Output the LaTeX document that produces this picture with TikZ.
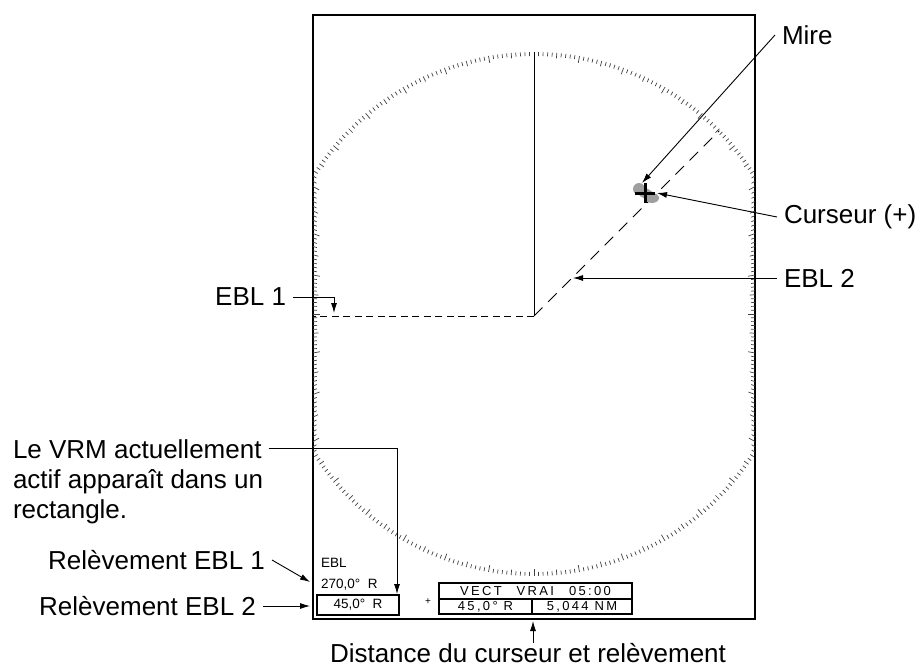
\documentclass[tikz,border=0pt]{standalone}
\usepackage{fontspec}
\setmainfont{Liberation Sans}
\newfontfamily\lcdfont[LetterSpace=18]{Liberation Sans}
\usetikzlibrary{arrows.meta,positioning}

\begin{document}
\begin{tikzpicture}[x=1pt,y=-1pt,
  lbl/.style={inner sep=0pt,outer xsep=7pt,font=\fontsize{26}{30}\selectfont},
  small/.style={inner sep=0pt,font=\fontsize{13.5}{15}\selectfont},
  lcd/.style={draw,line width=1.1pt,inner sep=0pt,font=\lcdfont\fontsize{13}{14}\selectfont},
  lead/.style={-{Latex[length=10pt,width=6pt]},line width=0.9pt},
  ebl/.style={line width=1pt}]
  \useasboundingbox (0,0) rectangle (921,669);

  % radar frame and bearing scale
  \draw[line width=1.2pt] (313,15) rectangle (755,619);
  \foreach \a in {0,...,359}{
    \pgfmathsetmacro\t{min(262,221/max(abs(cos(\a)),0.5))}
    \pgfmathsetmacro\l{ifthenelse(mod(\a,10)==0,7,ifthenelse(mod(\a,5)==0,5.5,4))}
    \draw[black!75,line width=0.7pt] ({534+\t*cos(\a)},{314+\t*sin(\a)}) -- ({534+(\t-\l)*cos(\a)},{314+(\t-\l)*sin(\a)});
  }

  % heading line and EBLs
  \coordinate (own) at (534,316);
  \draw[ebl] (534,52) -- (own);
  \draw[ebl,dash pattern=on 7pt off 4.5pt] (own) -- (313,316);
  \draw[ebl,dash pattern=on 12pt off 8pt] (own) -- ++(-45:262);

  % cursor on target
  \fill[gray!75] (639,189) circle (6);
  \fill[gray!75] (652,198) ellipse (7 and 5);
  \fill[gray!75] (635,185) -- (648,189) -- (657,195) -- (650,202) -- (640,196) -- cycle;
  \coordinate (cursor) at (645,193);
  \draw[line width=3pt] (635,193) -- (655,193) (645,183) -- (645,203);

  % labels right
  \node[lbl,anchor=west] (mire) at (775,35) {Mire};
  \node[lbl,anchor=west] (curs) at (777,217) {Curseur (+)};
  \node[lbl,anchor=west] (ebltwo) at (777,278) {EBL 2};
  \node[lbl,anchor=east] (eblone) at (293,297) {EBL 1};
  \coordinate (miretip) at (642,183);
  \coordinate (curstip) at (657,193);
  \coordinate (ebltwotip) at (573,278);
  \coordinate (eblonetip) at (334,313);
  \draw[lead] (mire.west) -- (miretip);
  \draw[lead] (curs.west) -- (curstip);
  \draw[lead] (ebltwo.west) -- (ebltwotip);
  \draw[lead] (eblone.east) -| (eblonetip);

  % readouts
  \node[small,anchor=west] (eblhdr) at (321,563) {EBL};
  \node[small,anchor=west] (brgone) at (321,585) {270,0°\ \ R};
  \node[small,draw,line width=1.1pt,minimum width=82pt,minimum height=20pt] (brgtwo) at (358,605) {45,0°\ \ R};
  \node[inner sep=0pt,font=\fontsize{10}{11}\selectfont] (plus) at (428,602) {+};
  \node[lcd,minimum width=193pt,minimum height=16pt] (vect) at (535.5,591) {VECT\hspace{15pt}VRAI\hspace{15pt}05:00};
  \node[lcd,minimum width=93pt,minimum height=15pt] (brg) at (485.5,606.5) {45,0°\ R};
  \node[lcd,minimum width=100pt,minimum height=15pt] (rng) at (582,606.5) {5,044 NM};

  % labels left and bottom
  \node[lbl,anchor=base west] (vrma) at (6,458) {Le VRM actuellement};
  \node[lbl,anchor=base west] (vrmb) at (6,488) {actif apparaît dans un};
  \node[lbl,anchor=base west] (vrmc) at (6,518) {rectangle.};
  \coordinate (vrmtip) at (397,594);
  \draw[lead] (vrma.east) -| (vrmtip);
  \node[lbl,anchor=east] (relone) at (272,560) {Relèvement EBL 1};
  \node[lbl,anchor=east] (reltwo) at (263,606) {Relèvement EBL 2};
  \coordinate (relonetip) at (310,582);
  \coordinate (reltwotip) at (310,606);
  \draw[lead] (relone.east) -- (relonetip);
  \draw[lead] (reltwo.east) -- (reltwotip);
  \node[lbl,anchor=base] (dist) at (528,662) {Distance du curseur et relèvement};
  \coordinate (disttip) at (533,621);
  \draw[lead] (dist.north -| disttip) -- (disttip);
\end{tikzpicture}
\end{document}
